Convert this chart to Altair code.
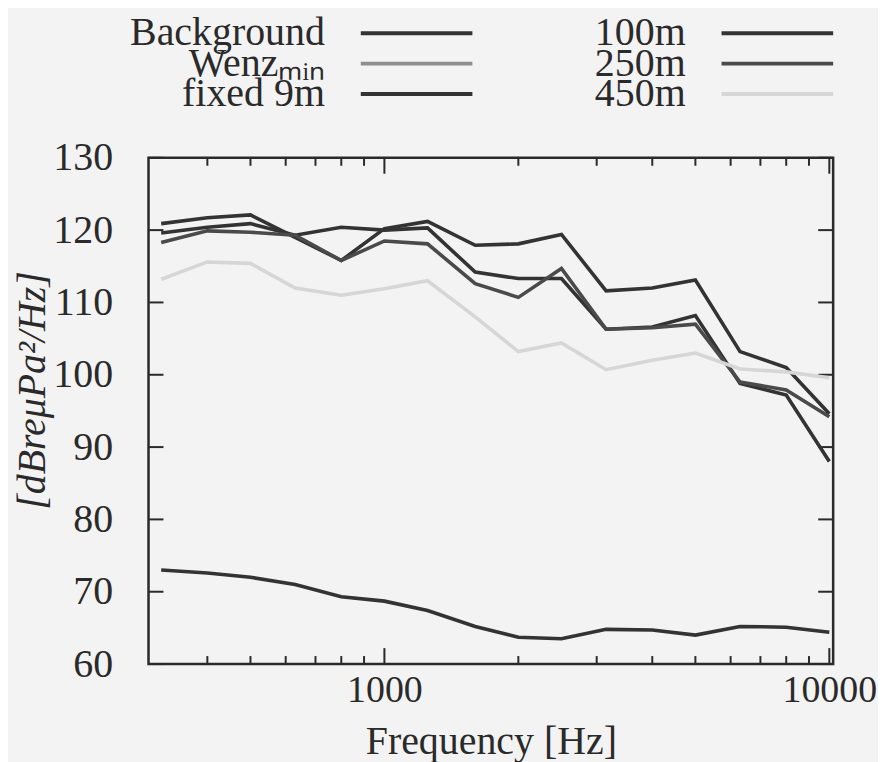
import altair as alt
import pandas as pd

# ---- data ----
freqs = [315, 400, 500, 630, 800, 1000, 1250, 1600, 2000, 2500, 3150, 4000, 5000, 6300, 8000, 10000]
background = [73.0, 72.6, 72.0, 71.0, 69.3, 68.7, 67.4, 65.2, 63.7, 63.5, 64.8, 64.7, 64.0, 65.2, 65.1, 64.4]
fixed_9m = [120.9, 121.7, 122.1, 119.0, 115.8, 120.2, 121.2, 117.9, 118.1, 119.4, 111.6, 112.0, 113.1, 103.2, 101.0, 94.6]
m100 = [119.6, 120.4, 120.9, 119.3, 120.4, 120.0, 120.3, 114.2, 113.3, 113.3, 106.3, 106.6, 108.2, 98.8, 97.2, 88.0]
m250 = [118.3, 119.9, 119.7, 119.3, 115.8, 118.5, 118.1, 112.6, 110.7, 114.7, 106.3, 106.5, 107.0, 99.0, 97.9, 94.2]
m450 = [113.2, 115.6, 115.4, 112.0, 111.0, 111.9, 113.0, 108.0, 103.2, 104.4, 100.7, 102.0, 103.0, 100.8, 100.4, 99.6]

names = ["Background", "Wenzₘᵢₙ", "fixed 9m", "100m", "250m", "450m"]
colors = ["#333333", "#8e8e8e", "#333333", "#333333", "#4a4a4a", "#d6d6d6"]

y_ticks = [60, 70, 80, 90, 100, 110, 120, 130]
x_major = [1000, 10000]
x_minor = [400, 500, 600, 700, 800, 900, 2000, 3000, 4000, 5000, 6000, 7000, 8000, 9000]

# ---- tables ----
series = [("Background", background), ("fixed 9m", fixed_9m), ("100m", m100),
          ("250m", m250), ("450m", m450)]
rows = []
for name, vals in series:
    for f, v in zip(freqs, vals):
        rows.append({"series": name, "freq": f, "level": v})
df = pd.DataFrame(rows)

W, H = 687, 508
FONT = "Liberation Serif"
INK = "#2a2a2a"

xs = alt.Scale(type="log", domain=[295, 10200])
ys = alt.Scale(domain=[60, 130], nice=False, zero=False)
cs = alt.Scale(domain=names, range=colors)

x_axis = alt.Axis(values=x_major, format="d", ticks=False, domain=False, grid=False,
                  labelFontSize=38, labelPadding=8, labelFlush=False,
                  title="Frequency [Hz]", titleFontSize=40, titleFontWeight="normal",
                  titlePadding=12)
y_axis = alt.Axis(values=y_ticks, ticks=False, domain=False, grid=False,
                  labelFontSize=40, labelPadding=36,
                  title="[dBreμPa²/Hz]", titleFontSize=40, titleFontStyle="italic",
                  titleFontWeight="normal", titlePadding=0, titleY=233)

X = alt.X("freq:Q", scale=xs, axis=x_axis)
Y = alt.Y("level:Q", scale=ys, axis=y_axis)

lines = alt.Chart(df).mark_line(strokeWidth=3.6, clip=True).encode(
    x=X, y=Y,
    color=alt.Color("series:N", scale=cs, legend=None),
)

ydf = pd.DataFrame({"level": y_ticks})
majdf = pd.DataFrame({"freq": x_major})
mindf = pd.DataFrame({"freq": x_minor})

tick_style = dict(color=INK, strokeWidth=2)
yl = alt.Chart(ydf).mark_rule(**tick_style).encode(y=Y, x=alt.value(0), x2=alt.value(15))
yr = alt.Chart(ydf).mark_rule(**tick_style).encode(y=Y, x=alt.value(W - 15), x2=alt.value(W))
xb_maj = alt.Chart(majdf).mark_rule(**tick_style).encode(x=X, y=alt.value(H), y2=alt.value(H - 16))
xt_maj = alt.Chart(majdf).mark_rule(**tick_style).encode(x=X, y=alt.value(0), y2=alt.value(16))
xb_min = alt.Chart(mindf).mark_rule(**tick_style).encode(x=X, y=alt.value(H), y2=alt.value(H - 8))
xt_min = alt.Chart(mindf).mark_rule(**tick_style).encode(x=X, y=alt.value(0), y2=alt.value(8))

main = alt.layer(yl, yr, xb_maj, xt_maj, xb_min, xt_min, lines).properties(
    width=W, height=H,
    view=alt.ViewBackground(stroke=INK, strokeWidth=2.5),
)

# ---- legend (labels left of the line samples, two columns) ----
leg_df = pd.DataFrame({"name": names,
                       "col": [i // 3 for i in range(len(names))],
                       "row": [i % 3 for i in range(len(names))]})
lx = alt.Scale(domain=[0, 1], range=[177, 539])
ly = alt.Scale(domain=[0, 2], range=[8, 69])
LX = alt.X("col:Q", scale=lx, axis=None)
LY = alt.Y("row:Q", scale=ly, axis=None)

leg_text = alt.Chart(leg_df).mark_text(align="right", baseline="middle", font=FONT,
                                       fontSize=40, color=INK).encode(
    x=LX, y=LY, text="name:N")
leg_line = alt.Chart(leg_df).mark_rule(strokeWidth=4, xOffset=36, x2Offset=148).encode(
    x=LX, x2="col:Q", y=LY,
    color=alt.Color("name:N", scale=cs, legend=None))
legend = alt.layer(leg_text, leg_line).properties(
    width=W, height=110,
    view=alt.ViewBackground(stroke="transparent"),
)

chart = alt.vconcat(legend, main, spacing=0).properties(
    background="#f3f3f3",
    padding={"left": 3, "top": 3, "right": 0, "bottom": 5},
).configure_axis(
    labelFont=FONT, titleFont=FONT, labelColor=INK, titleColor=INK
)

chart.save("out.html", embed_options={"renderer": "svg", "actions": False})
